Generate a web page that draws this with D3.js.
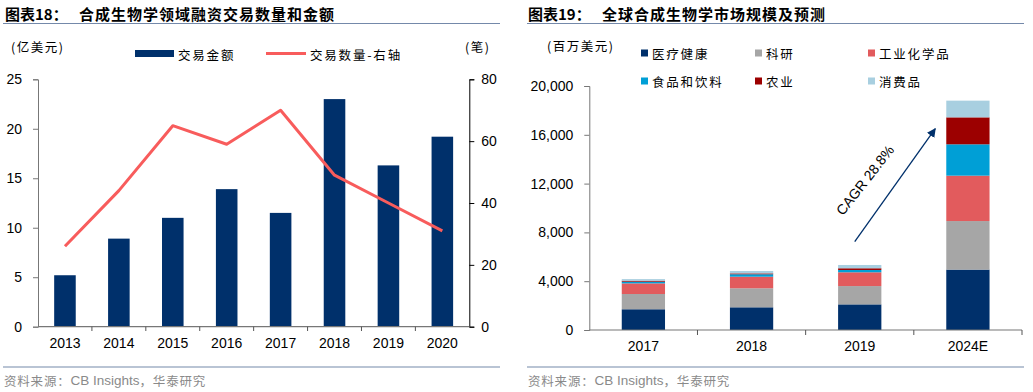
<!DOCTYPE html>
<html><head><meta charset="utf-8">
<script src="https://cdn.jsdelivr.net/npm/d3@7"></script>
<style>
body{margin:0;background:#fff;}
svg{display:block;}
.num{font-family:"Liberation Sans",Arial,sans-serif;font-size:14px;fill:#000;}
.cn{font-family:"Noto Sans CJK SC",sans-serif;}
</style></head>
<body>
<svg id="c" width="1033" height="392"></svg>
<script>
// ---------- Data: chart 18 ----------
const years = ["2013","2014","2015","2016","2017","2018","2019","2020"];
const dealAmount = [5.2, 8.9, 11.0, 13.9, 11.5, 23.0, 16.3, 19.2];   // 亿美元
const dealCount  = [26, 44, 65, 59, 70, 49, 40, 31];                // 笔
const leftTicks18 = [0,5,10,15,20,25];
const rightTicks18 = [0,20,40,60,80];

// ---------- Data: chart 19 ----------
const periods = ["2017","2018","2019","2024E"];
const segNames = ["医疗健康","科研","工业化学品","食品和饮料","农业","消费品"];
const segColors = ["#00306b","#a6a6a6","#e25b5d","#009fd6","#9c0000","#a8cfe0"];
const healthcare = [1700, 1860, 2100, 4950];
const research   = [1250, 1560, 1500, 3980];
const industrial = [870, 950, 1130, 3720];
const foodBev    = [140, 200, 190, 2570];
const agriculture= [80, 70, 140, 2210];
const consumer   = [130, 200, 270, 1370];
const ticks19 = [0,4000,8000,12000,16000,20000];
const cagrLabel = "CAGR 28.8%";

const svg = d3.select("#c");
const lineCol = "#7489aa";
const navy = "#00306b";
const red = "#f85c5c";

function cnText(x,y,t,size,opts={}){
  return svg.append("text").attr("class","cn").attr("x",x).attr("y",y)
    .attr("dominant-baseline","central")
    .style("font-size",size+"px").style("letter-spacing",(opts.ls??0)+"px")
    .style("font-weight",opts.bold?"bold":"normal")
    .attr("fill",opts.fill||"#000").attr("text-anchor",opts.anchor||"start").text(t);
}
function source(x,y){
  const t = svg.append("text").attr("x",x).attr("y",y).attr("dominant-baseline","central")
    .attr("fill","#8a8a8a").style("font-size","12.5px");
  t.append("tspan").attr("class","cn").style("letter-spacing","0.8px").text("资料来源：");
  t.append("tspan").style("font-family","'Liberation Sans',Arial,sans-serif").style("font-size","13.5px").text("CB Insights");
  t.append("tspan").attr("class","cn").style("letter-spacing","0.8px").text("，华泰研究");
}

// ---------- Headers / footers ----------
cnText(5,13,"图表18：",15,{bold:true});
cnText(79,13,"合成生物学领域融资交易数量和金额",15,{bold:true,ls:1});
cnText(528,13,"图表19：",15,{bold:true});
cnText(602,13,"全球合成生物学市场规模及预测",15,{bold:true,ls:1});
[[3,500,23.5],[527,1024,23.5],[3,500,367],[527,1024,367]].forEach(([a,b,y])=>{
  svg.append("line").attr("x1",a).attr("x2",b).attr("y1",y).attr("y2",y)
    .attr("stroke",lineCol).attr("stroke-width",1.2);
});
source(4,379.5);
source(528,379.5);

// ================= Chart 18 =================
{
  const x = d3.scaleBand().domain(years).range([38,469.3]).paddingInner(0.6).paddingOuter(0.3);
  const xb = d3.scaleBand().domain(years).range([38,469.3]).padding(0);
  const y0 = d3.scaleLinear().domain([0,25]).range([326.7,79.3]);
  const y1 = d3.scaleLinear().domain([0,80]).range([326.7,79.3]);
  const g = svg.append("g");

  g.selectAll("rect.bar").data(years).join("rect")
    .attr("x",d=>x(d)).attr("width",x.bandwidth())
    .attr("y",(d,i)=>y0(dealAmount[i])).attr("height",(d,i)=>y0(0)-y0(dealAmount[i]))
    .attr("fill",navy);

  const line = d3.line().x((d,i)=>x(years[i])+x.bandwidth()/2).y(d=>y1(d));
  g.append("path").datum(dealCount).attr("d",line).attr("fill","none")
    .attr("stroke",red).attr("stroke-width",3).attr("stroke-linejoin","round");

  // left axis
  const la = g.append("g").attr("transform","translate(38,0)")
    .call(d3.axisLeft(y0).tickValues(leftTicks18).tickSize(5).tickPadding(11).tickFormat(d3.format("d")));
  la.selectAll("path,line").attr("stroke","#777");
  la.selectAll("text").attr("class","num").attr("font-size",null).attr("font-family",null);
  // right axis
  const ra = g.append("g").attr("transform","translate(469.3,0)")
    .call(d3.axisRight(y1).tickValues(rightTicks18).tickSize(5).tickPadding(7));
  ra.selectAll("path,line").attr("stroke","#000");
  ra.selectAll("text").attr("class","num").attr("font-size",null).attr("font-family",null);
  // bottom axis
  const ba = g.append("g").attr("transform","translate(0,326.7)")
    .call(d3.axisBottom(x).tickSize(0).tickPadding(11));
  ba.select("path").remove();
  ba.selectAll("text").attr("class","num").attr("font-size",null).attr("font-family",null);
  g.append("line").attr("x1",38).attr("x2",469.3).attr("y1",326.7).attr("y2",326.7).attr("stroke","#777").attr("stroke-width",1.2);
  const bounds = years.map(d=>xb(d)).concat([xb(years[years.length-1])+xb.step()]);
  g.selectAll("line.bt").data(bounds.slice(1,-1)).join("line")
    .attr("x1",d=>d).attr("x2",d=>d).attr("y1",326.7).attr("y2",331).attr("stroke","#555");

  // units
  cnText(11,46,"(亿美元)",12.5,{ls:1.5});
  cnText(465,46,"(笔)",12.5,{ls:1.5});
  // legend
  g.append("rect").attr("x",135).attr("y",50).attr("width",39).attr("height",7).attr("fill",navy);
  cnText(178,54,"交易金额",12.5,{ls:1.8});
  g.append("line").attr("x1",266).attr("x2",306).attr("y1",53.5).attr("y2",53.5).attr("stroke",red).attr("stroke-width",3);
  cnText(310,54,"交易数量-右轴",12.5,{ls:1.8});
}

// ================= Chart 19 =================
{
  const x = d3.scaleBand().domain(periods).range([589.3,1022]).paddingInner(0.6).paddingOuter(0.3);
  const xb = d3.scaleBand().domain(periods).range([589.3,1022]).padding(0);
  const y = d3.scaleLinear().domain([0,20000]).range([330,86]);
  const g = svg.append("g");
  const series = [healthcare,research,industrial,foodBev,agriculture,consumer];
  const rows = periods.map((p,i)=>{const o={period:p}; segNames.forEach((s,k)=>o[s]=series[k][i]); return o;});
  const stacked = d3.stack().keys(segNames)(rows);

  g.selectAll("g.layer").data(stacked).join("g").attr("fill",(d,i)=>segColors[i])
    .selectAll("rect").data(d=>d).join("rect")
    .attr("x",d=>x(d.data.period)).attr("width",x.bandwidth())
    .attr("y",d=>y(d[1])).attr("height",d=>y(d[0])-y(d[1]));

  const la = g.append("g").attr("transform","translate(589.3,0)")
    .call(d3.axisLeft(y).tickValues(ticks19).tickSize(5).tickPadding(11).tickFormat(d3.format(",")));
  la.selectAll("path,line").attr("stroke","#777");
  la.selectAll("text").attr("class","num").attr("font-size",null).attr("font-family",null);
  const ba = g.append("g").attr("transform","translate(0,330)")
    .call(d3.axisBottom(x).tickSize(0).tickPadding(11));
  ba.select("path").remove();
  ba.selectAll("text").attr("class","num").attr("font-size",null).attr("font-family",null);
  g.append("line").attr("x1",589.3).attr("x2",1022).attr("y1",330).attr("y2",330).attr("stroke","#777").attr("stroke-width",1.2);
  const bounds = periods.map(d=>xb(d)).slice(1).concat([xb(periods[periods.length-1])+xb.step()]);
  g.selectAll("line.bt").data(bounds).join("line")
    .attr("x1",d=>d).attr("x2",d=>d).attr("y1",330).attr("y2",335).attr("stroke","#555");

  cnText(547,45,"(百万美元)",12.5,{ls:1.5});
  // legend
  const legX = [641,755,868];
  segNames.forEach((s,i)=>{
    const lx = legX[i%3], ly = i<3 ? 53 : 81;
    g.append("rect").attr("x",lx).attr("y",ly-3.5).attr("width",7).attr("height",7).attr("fill",segColors[i]);
    cnText(lx+11,ly,s,12.5,{ls:1.8});
  });

  // CAGR arrow annotation anchored to the scales
  const x0 = x("2019")+x.bandwidth()/2-5, ya = y(7250);
  const x1 = x("2024E")-11, yb = y(16500);
  svg.append("defs").append("marker").attr("id","ah").attr("viewBox","0 0 10 10")
    .attr("refX",9).attr("refY",5).attr("markerWidth",9).attr("markerHeight",9)
    .attr("markerUnits","userSpaceOnUse").attr("orient","auto")
    .append("path").attr("d","M0,0L10,5L0,10z").attr("fill",navy);
  g.append("line").attr("x1",x0).attr("y1",ya).attr("x2",x1).attr("y2",yb)
    .attr("stroke",navy).attr("stroke-width",1.3).attr("marker-end","url(#ah)");
  g.append("text").attr("class","num").attr("text-anchor","middle").attr("dominant-baseline","central")
    .attr("transform",`translate(${(x0+x1)/2-30},${(ya+yb)/2-5}) rotate(-52)`).text(cagrLabel);
}
</script>
</body></html>
